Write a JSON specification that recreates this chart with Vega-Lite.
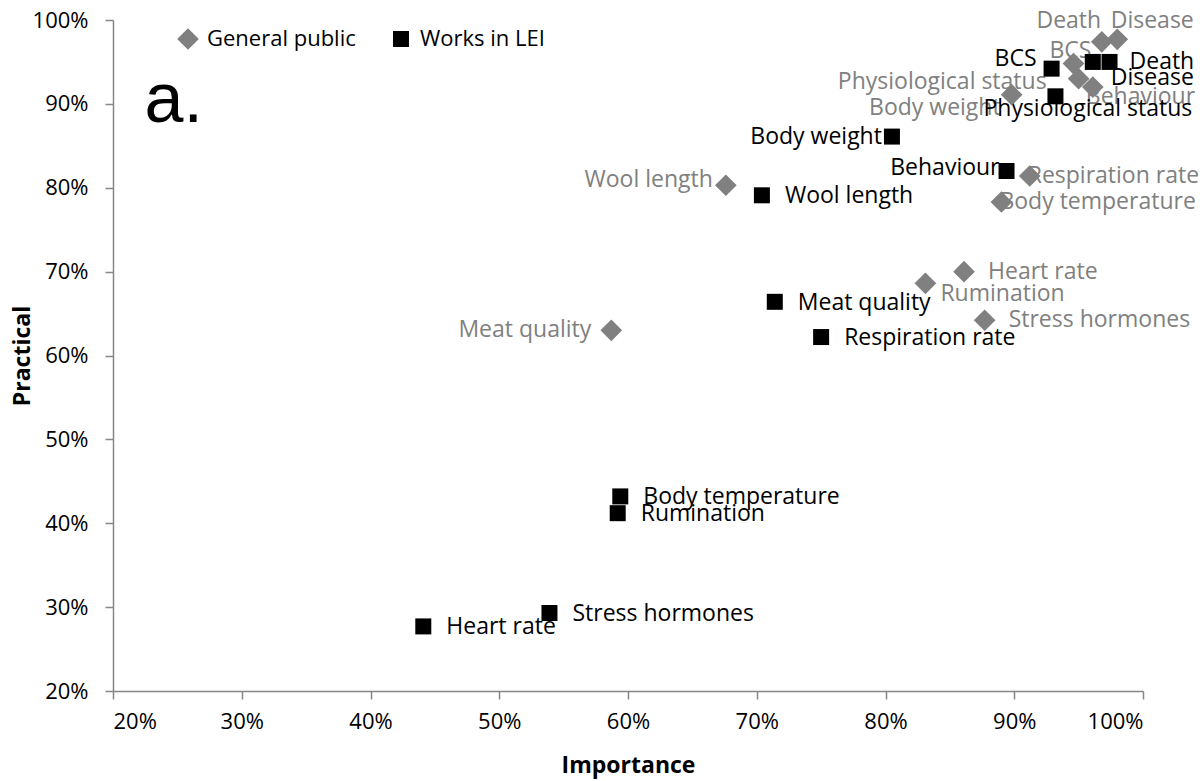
{
  "$schema": "https://vega.github.io/schema/vega-lite/v6.json",
  "width": 1030,
  "height": 671,
  "autosize": {"type": "none"},
  "padding": {"left": 113, "top": 20, "right": 61, "bottom": 90},
  "background": "white",
  "config": {
    "view": {"stroke": null},
    "font": "Open Sans",
    "axis": {
      "grid": false,
      "domainColor": "#868686",
      "tickColor": "#868686",
      "domainWidth": 1.5,
      "tickWidth": 1.5,
      "tickSize": 8,
      "labelFont": "Open Sans",
      "labelFontSize": 22,
      "labelColor": "#000000",
      "titleFont": "Open Sans",
      "titleFontSize": 23,
      "titleFontWeight": "bold",
      "titleColor": "#000000"
    },
    "legend": {"padding": 0}
  },
  "data": {
    "values": [
      {"group": "General public", "label": "Death", "importance": 0.968, "practical": 0.974},
      {"group": "General public", "label": "Disease", "importance": 0.980, "practical": 0.977},
      {"group": "General public", "label": "BCS", "importance": 0.946, "practical": 0.948},
      {"group": "General public", "label": "Physiological status", "importance": 0.950, "practical": 0.930},
      {"group": "General public", "label": "Behaviour", "importance": 0.961, "practical": 0.920},
      {"group": "General public", "label": "Body weight", "importance": 0.898, "practical": 0.911},
      {"group": "General public", "label": "Respiration rate", "importance": 0.912, "practical": 0.814},
      {"group": "General public", "label": "Body temperature", "importance": 0.890, "practical": 0.783},
      {"group": "General public", "label": "Heart rate", "importance": 0.861, "practical": 0.700},
      {"group": "General public", "label": "Rumination", "importance": 0.831, "practical": 0.686},
      {"group": "General public", "label": "Stress hormones", "importance": 0.877, "practical": 0.642},
      {"group": "General public", "label": "Wool length", "importance": 0.676, "practical": 0.803},
      {"group": "General public", "label": "Meat quality", "importance": 0.587, "practical": 0.630},
      {"group": "Works in LEI", "label": "BCS", "importance": 0.929, "practical": 0.942},
      {"group": "Works in LEI", "label": "Death", "importance": 0.974, "practical": 0.950},
      {"group": "Works in LEI", "label": "Disease", "importance": 0.961, "practical": 0.950},
      {"group": "Works in LEI", "label": "Physiological status", "importance": 0.932, "practical": 0.909},
      {"group": "Works in LEI", "label": "Body weight", "importance": 0.805, "practical": 0.861},
      {"group": "Works in LEI", "label": "Behaviour", "importance": 0.894, "practical": 0.820},
      {"group": "Works in LEI", "label": "Wool length", "importance": 0.704, "practical": 0.791},
      {"group": "Works in LEI", "label": "Meat quality", "importance": 0.714, "practical": 0.664},
      {"group": "Works in LEI", "label": "Respiration rate", "importance": 0.750, "practical": 0.622},
      {"group": "Works in LEI", "label": "Body temperature", "importance": 0.594, "practical": 0.432},
      {"group": "Works in LEI", "label": "Rumination", "importance": 0.592, "practical": 0.412},
      {"group": "Works in LEI", "label": "Stress hormones", "importance": 0.539, "practical": 0.293},
      {"group": "Works in LEI", "label": "Heart rate", "importance": 0.441, "practical": 0.277}
    ]
  },
  "encoding": {
    "x": {
      "field": "importance", "type": "quantitative",
      "scale": {"domain": [0.2, 1.0], "nice": false, "zero": false},
      "axis": {"title": "Importance", "format": ".0%", "values": [0.2, 0.3, 0.4, 0.5, 0.6, 0.7, 0.8, 0.9, 1.0], "labelPadding": 12, "titlePadding": 22}
    },
    "y": {
      "field": "practical", "type": "quantitative",
      "scale": {"domain": [0.2, 1.0], "nice": false, "zero": false},
      "axis": {"title": "Practical", "format": ".0%", "values": [0.2, 0.3, 0.4, 0.5, 0.6, 0.7, 0.8, 0.9, 1.0], "labelPadding": 17, "titlePadding": -2}
    }
  },
  "layer": [
    {
      "data": {"values": [{"t": "a.", "importance": 0.2245, "practical": 0.878}]},
      "mark": {"type": "text", "font": "Liberation Sans", "fontSize": 70, "align": "left", "baseline": "alphabetic", "color": "#000000"},
      "encoding": {"text": {"field": "t"}}
    },
    {
      "transform": [{"filter": {"and": [{"field": "group", "equal": "General public"}, {"field": "label", "oneOf": ["Heart rate", "Stress hormones"]}]}}],
      "mark": {"type": "text", "fontSize": 23, "align": "left", "baseline": "middle", "dx": 24, "dy": 0, "color": "#808080"},
      "encoding": {"text": {"field": "label"}}
    },
    {
      "transform": [{"filter": {"and": [{"field": "group", "equal": "General public"}, {"field": "label", "oneOf": ["Rumination"]}]}}],
      "mark": {"type": "text", "fontSize": 23, "align": "left", "baseline": "middle", "dx": 15, "dy": 11, "color": "#808080"},
      "encoding": {"text": {"field": "label"}}
    },
    {
      "transform": [{"filter": {"and": [{"field": "group", "equal": "General public"}, {"field": "label", "oneOf": ["Respiration rate", "Body temperature"]}]}}],
      "mark": {"type": "text", "fontSize": 23, "align": "left", "baseline": "middle", "dx": -2, "dy": 0, "color": "#808080"},
      "encoding": {"text": {"field": "label"}}
    },
    {
      "transform": [{"filter": {"and": [{"field": "group", "equal": "General public"}, {"field": "label", "oneOf": ["Wool length"]}]}}],
      "mark": {"type": "text", "fontSize": 23, "align": "right", "baseline": "middle", "dx": -13, "dy": -5, "color": "#808080"},
      "encoding": {"text": {"field": "label"}}
    },
    {
      "transform": [{"filter": {"and": [{"field": "group", "equal": "General public"}, {"field": "label", "oneOf": ["Meat quality"]}]}}],
      "mark": {"type": "text", "fontSize": 23, "align": "right", "baseline": "middle", "dx": -20, "dy": 0, "color": "#808080"},
      "encoding": {"text": {"field": "label"}}
    },
    {
      "transform": [{"filter": {"and": [{"field": "group", "equal": "General public"}, {"field": "label", "oneOf": ["Death"]}]}}],
      "mark": {"type": "text", "fontSize": 23, "align": "center", "baseline": "middle", "dx": -33, "dy": -21, "color": "#808080"},
      "encoding": {"text": {"field": "label"}}
    },
    {
      "transform": [{"filter": {"and": [{"field": "group", "equal": "General public"}, {"field": "label", "oneOf": ["Disease"]}]}}],
      "mark": {"type": "text", "fontSize": 23, "align": "center", "baseline": "middle", "dx": 35, "dy": -18, "color": "#808080"},
      "encoding": {"text": {"field": "label"}}
    },
    {
      "transform": [{"filter": {"and": [{"field": "group", "equal": "General public"}, {"field": "label", "oneOf": ["BCS"]}]}}],
      "mark": {"type": "text", "fontSize": 23, "align": "center", "baseline": "middle", "dx": -3, "dy": -13, "color": "#808080"},
      "encoding": {"text": {"field": "label"}}
    },
    {
      "transform": [{"filter": {"and": [{"field": "group", "equal": "General public"}, {"field": "label", "oneOf": ["Physiological status"]}]}}],
      "mark": {"type": "text", "fontSize": 23, "align": "right", "baseline": "middle", "dx": -32, "dy": 3, "color": "#808080"},
      "encoding": {"text": {"field": "label"}}
    },
    {
      "transform": [{"filter": {"and": [{"field": "group", "equal": "General public"}, {"field": "label", "oneOf": ["Body weight"]}]}}],
      "mark": {"type": "text", "fontSize": 23, "align": "right", "baseline": "middle", "dx": -11, "dy": 13, "color": "#808080"},
      "encoding": {"text": {"field": "label"}}
    },
    {
      "transform": [{"filter": {"and": [{"field": "group", "equal": "General public"}, {"field": "label", "oneOf": ["Behaviour"]}]}}],
      "mark": {"type": "text", "fontSize": 23, "align": "left", "baseline": "middle", "dx": -7, "dy": 10, "color": "#808080"},
      "encoding": {"text": {"field": "label"}}
    },
    {
      "transform": [{"filter": {"and": [{"field": "group", "equal": "Works in LEI"}, {"field": "label", "oneOf": ["Wool length", "Meat quality", "Respiration rate", "Body temperature", "Rumination", "Stress hormones", "Heart rate"]}]}}],
      "mark": {"type": "text", "fontSize": 23, "align": "left", "baseline": "middle", "dx": 23, "dy": 1, "color": "#000000"},
      "encoding": {"text": {"field": "label"}}
    },
    {
      "transform": [{"filter": {"and": [{"field": "group", "equal": "Works in LEI"}, {"field": "label", "oneOf": ["Death"]}]}}],
      "mark": {"type": "text", "fontSize": 23, "align": "left", "baseline": "middle", "dx": 20, "dy": 0, "color": "#000000"},
      "encoding": {"text": {"field": "label"}}
    },
    {
      "transform": [{"filter": {"and": [{"field": "group", "equal": "Works in LEI"}, {"field": "label", "oneOf": ["Body weight"]}]}}],
      "mark": {"type": "text", "fontSize": 23, "align": "right", "baseline": "middle", "dx": -10, "dy": 0, "color": "#000000"},
      "encoding": {"text": {"field": "label"}}
    },
    {
      "transform": [{"filter": {"and": [{"field": "group", "equal": "Works in LEI"}, {"field": "label", "oneOf": ["Behaviour"]}]}}],
      "mark": {"type": "text", "fontSize": 23, "align": "right", "baseline": "middle", "dx": -7, "dy": -3, "color": "#000000"},
      "encoding": {"text": {"field": "label"}}
    },
    {
      "transform": [{"filter": {"and": [{"field": "group", "equal": "Works in LEI"}, {"field": "label", "oneOf": ["BCS"]}]}}],
      "mark": {"type": "text", "fontSize": 23, "align": "right", "baseline": "middle", "dx": -15, "dy": -10, "color": "#000000"},
      "encoding": {"text": {"field": "label"}}
    },
    {
      "transform": [{"filter": {"and": [{"field": "group", "equal": "Works in LEI"}, {"field": "label", "oneOf": ["Disease"]}]}}],
      "mark": {"type": "text", "fontSize": 23, "align": "left", "baseline": "middle", "dx": 18, "dy": 16, "color": "#000000"},
      "encoding": {"text": {"field": "label"}}
    },
    {
      "transform": [{"filter": {"and": [{"field": "group", "equal": "Works in LEI"}, {"field": "label", "oneOf": ["Physiological status"]}]}}],
      "mark": {"type": "text", "fontSize": 23, "align": "left", "baseline": "middle", "dx": -72, "dy": 13, "color": "#000000"},
      "encoding": {"text": {"field": "label"}}
    },
    {
      "mark": {"type": "point", "filled": true, "opacity": 1, "strokeWidth": 0},
      "encoding": {
        "shape": {"field": "group", "type": "nominal", "scale": {"domain": ["General public", "Works in LEI"], "range": ["diamond", "square"]}, "title": null},
        "color": {"field": "group", "type": "nominal", "scale": {"domain": ["General public", "Works in LEI"], "range": ["#808080", "#000000"]}, "title": null,
          "legend": {"orient": "none", "direction": "horizontal", "legendX": 64, "legendY": 8, "labelFontSize": 22, "labelFont": "Open Sans", "labelColor": "#000000", "symbolSize": 180, "labelOffset": 8, "columnPadding": 34, "symbolStrokeWidth": 0}},
        "size": {"field": "group", "type": "nominal", "scale": {"domain": ["General public", "Works in LEI"], "range": [470, 256]}, "legend": null}
      }
    }
  ]
}
